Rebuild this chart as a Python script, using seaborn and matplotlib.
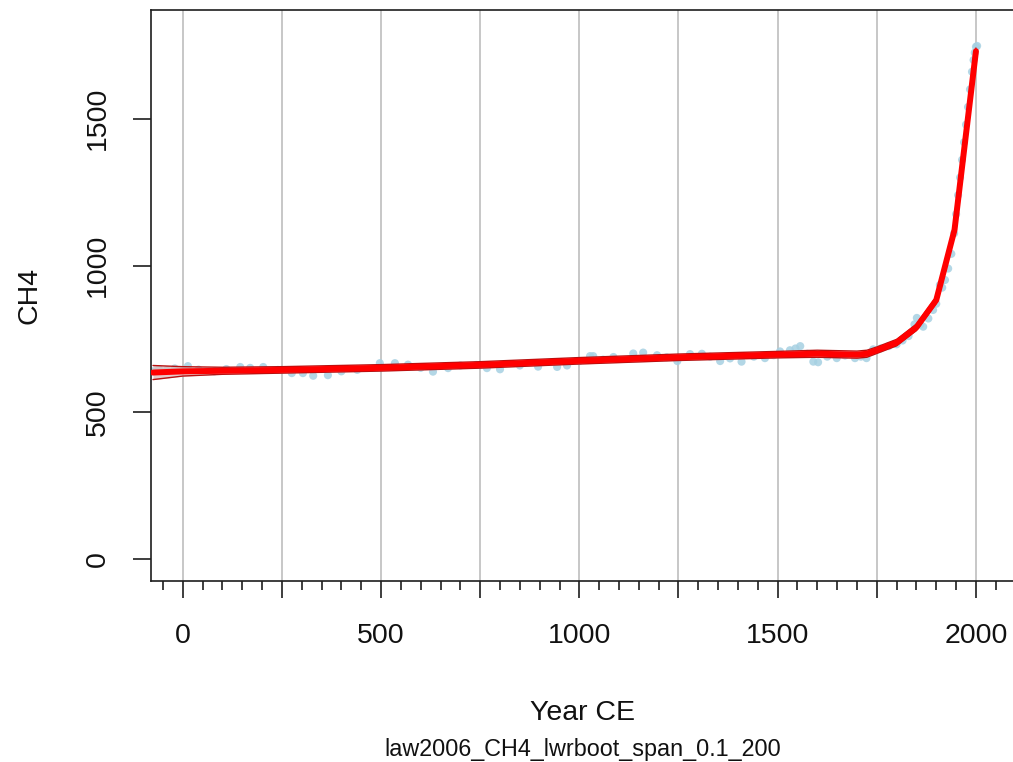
import numpy as np
import pandas as pd
import matplotlib
matplotlib.use("Agg")
import matplotlib.pyplot as plt
import seaborn as sns
from matplotlib.ticker import FixedLocator, FuncFormatter

# ---- data ----
obs_year = [-75, -60, -40, -20, 0, 13, 40, 80, 110, 145, 170, 203, 240, 275, 303, 329, 366,
            400, 440, 497, 535, 568, 600, 631, 669, 700, 740, 767, 800, 850, 896, 944, 969,
            1000, 1027, 1035, 1060, 1086, 1136, 1161, 1196, 1220, 1247, 1279, 1309, 1330, 1355,
            1380, 1409, 1440, 1468, 1490, 1506, 1531, 1545, 1557, 1575, 1590, 1602, 1625, 1649,
            1670, 1695, 1710, 1724, 1741, 1760, 1780, 1800, 1815, 1830, 1845, 1851, 1860, 1867,
            1880, 1892, 1900, 1909, 1915, 1922, 1930, 1938, 1945, 1950, 1955, 1960, 1965, 1970,
            1975, 1980, 1985, 1990, 1994, 1997, 2000, 2003]
obs_ch4 = [640, 648, 644, 650, 645, 658, 646, 640, 648, 655, 652, 655, 645, 634, 634, 625, 627,
           640, 645, 668, 668, 663, 652, 639, 651, 660, 662, 651, 647, 660, 656, 655, 660,
           675, 692, 692, 680, 689, 701, 704, 695, 688, 675, 699, 700, 690, 675,
           684, 673, 690, 685, 695, 708, 712, 718, 726, 700, 673, 671, 690, 685,
           694, 685, 690, 685, 715, 718, 726, 732, 745, 760, 800, 822, 800, 792,
           820, 849, 870, 934, 925, 951, 990, 1040, 1110, 1175, 1240, 1300, 1360, 1420,
           1480, 1540, 1600, 1660, 1700, 1725, 1745, 1748]

smooth_year = [-75, 0, 100, 250, 500, 750, 1000, 1250, 1500, 1600, 1700, 1725, 1750, 1800,
               1850, 1900, 1946, 2000]
smooth_ch4 = [636, 640, 642, 645, 652, 662, 676, 688, 697, 700, 697, 700, 712, 738,
              790, 883, 1122, 1730]
band_half = [24, 16, 12, 11, 11, 11, 11, 11, 11, 12, 12, 12, 11, 11, 11, 11, 11, 11]

xtick_major = [0, 250, 500, 750, 1000, 1250, 1500, 1750, 2000]
ytick_vals = [0, 500, 1000, 1500]

title_x = "Year CE"
title_y = "CH4"
subtitle = "law2006_CH4_lwrboot_span_0.1_200"

# ---- style ----
sns.set_style("white")
plt.rcParams['font.family'] = ['Liberation Sans', 'DejaVu Sans']
FS = 20.5
axcol = "#1e1e1e"

W, H = 1013, 762
fig = plt.figure(figsize=(W / 100, H / 100), dpi=100)
left_px, right_px, top_px, bot_px = 151, 1015.6, 9.5, 580.5
ax = fig.add_axes([left_px / W, 1 - bot_px / H, (right_px - left_px) / W, (bot_px - top_px) / H])

obs = pd.DataFrame({"year": obs_year, "ch4": obs_ch4})
sm = pd.DataFrame({"year": smooth_year, "ch4": smooth_ch4, "half": band_half})
sm["lo"] = sm["ch4"] - sm["half"]
sm["hi"] = sm["ch4"] + sm["half"]

ax.set_xlim(-80, 2100)
ax.set_ylim(-72, 1872)

# grid (vertical only)
ax.xaxis.set_major_locator(FixedLocator(xtick_major))
ax.xaxis.set_minor_locator(FixedLocator([v for v in range(-50, 2100, 50) if v % 250 != 0]))
ax.grid(axis="x", which="major", color="#bdbdbd", linewidth=1.2, zorder=0)
ax.grid(axis="y", visible=False)
ax.set_axisbelow(True)

# points
sns.scatterplot(data=obs, x="year", y="ch4", ax=ax, color="#a6d0e2", s=34,
                edgecolor="none", alpha=0.85, zorder=2, legend=False)

# bootstrap band + smooth line
ax.fill_between(sm["year"], sm["lo"], sm["hi"], color="#dcbcbc", alpha=0.75, linewidth=0, zorder=3)
sns.lineplot(data=sm, x="year", y="lo", ax=ax, color="#b81010", linewidth=1.0, zorder=4,
             estimator=None, sort=False)
sns.lineplot(data=sm, x="year", y="hi", ax=ax, color="#b81010", linewidth=1.0, zorder=4,
             estimator=None, sort=False)
sns.lineplot(data=sm, x="year", y="ch4", ax=ax, color="#ff0000", linewidth=4.3, zorder=5,
             estimator=None, sort=False)

# ticks
ax.xaxis.set_major_formatter(FuncFormatter(lambda v, p: f"{int(v)}" if int(v) % 500 == 0 else ""))
ax.yaxis.set_major_locator(FixedLocator(ytick_vals))
ax.tick_params(axis="x", which="major", direction="out", length=12.5, width=1.2, color=axcol,
               labelsize=FS, pad=18, labelcolor="#111111", bottom=True)
ax.tick_params(axis="x", which="minor", direction="out", length=6.5, width=1.2, color=axcol,
               bottom=True)
ax.tick_params(axis="y", which="major", direction="out", length=13, width=1.2, color=axcol,
               labelsize=FS, pad=16, labelcolor="#111111", left=True, labelrotation=90)
for lab in ax.get_yticklabels():
    lab.set_va("center")

for side in ["left", "top", "bottom"]:
    ax.spines[side].set_visible(True)
    ax.spines[side].set_color(axcol)
    ax.spines[side].set_linewidth(1.2)
ax.spines["right"].set_visible(False)

ax.set_xlabel("")
ax.set_ylabel("")
fig.text(583 / W, 1 - 720 / H, title_x, ha="center", va="baseline", fontsize=FS, color="#111111")
fig.text(583 / W, 1 - 756 / H, subtitle, ha="center", va="baseline", fontsize=16.8, color="#111111")
fig.text(30 / W, 1 - 295 / H, title_y, ha="center", va="center", rotation=90, fontsize=FS,
         color="#111111")

fig.savefig("out.png", dpi=100)
